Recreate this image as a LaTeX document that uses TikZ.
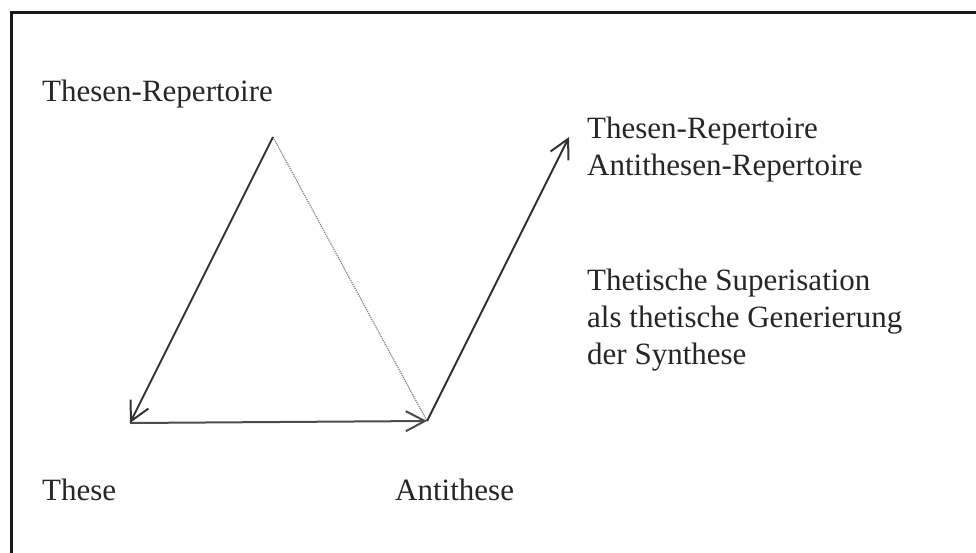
\documentclass[tikz,border=0pt]{standalone}
\usepackage{fontspec}
\setmainfont{Liberation Serif}
\usetikzlibrary{arrows.meta}
\begin{document}
\begin{tikzpicture}[x=1pt,y=-1pt,
  label/.style={anchor=base west,inner sep=0pt,font=\fontsize{31}{37}\selectfont,text=black!85,align=left},
  edge/.style={line width=2pt,draw=black!80,-{Straight Barb[length=19pt,width=20pt,line width=2pt]}},
  faint/.style={line width=1.2pt,draw=black!50,densely dotted}]
\useasboundingbox (0,0) rectangle (976,552);
\fill[white] (0,0) rectangle (976,552);
% open frame: left and top edges
\draw[line width=3pt,black!90] (11,560) -- (11,12) -- (984,12);
% vertices of the triangle and the free end
\coordinate (apex) at (273,137);
\coordinate (thesis) at (130,423);
\coordinate (anti) at (427,421);
\coordinate (synth) at (569,137);
% labels (a multi-line node sits on the baseline of its last line)
\node[label] (tr) at (42,101) {Thesen-Repertoire};
\node[label] (th) at (42,500) {These};
\node[label] (ath) at (395,500) {Antithese};
\node[label] (rep) at (587,175) {Thesen-Repertoire\\Antithesen-Repertoire};
\node[label] (sup) at (587,364) {Thetische Superisation\\als thetische Generierung\\der Synthese};
% connectors
\draw[faint] (apex) -- (anti);
\draw[edge] (apex) -- (thesis);
\draw[edge,draw=black!70] (thesis) -- (anti);
\draw[edge] (anti) -- (synth);
\end{tikzpicture}
\end{document}
